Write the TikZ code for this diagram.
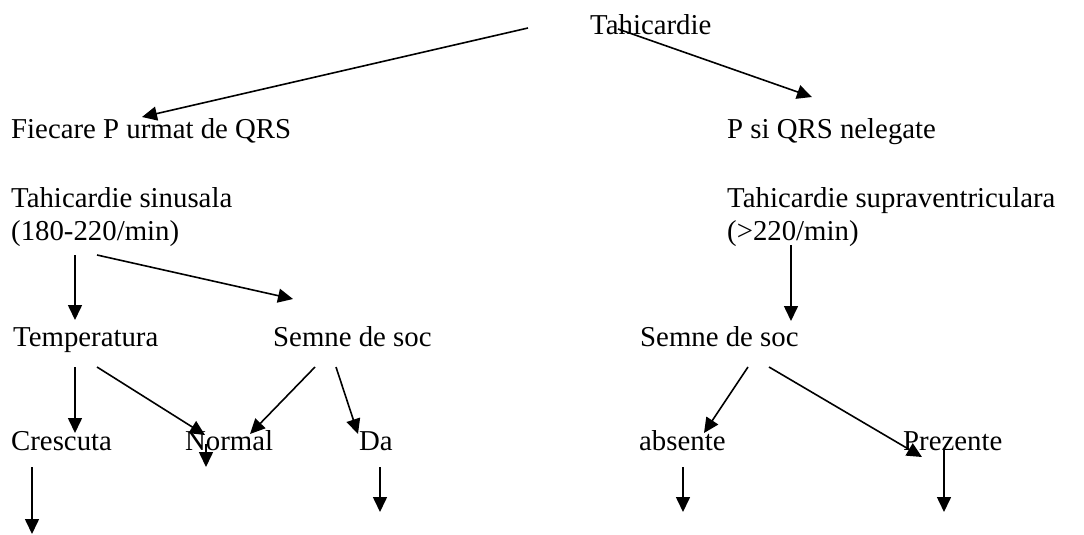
\documentclass[tikz,border=0pt]{standalone}
\usepackage{fontspec}
\setmainfont{Liberation Serif}
\usetikzlibrary{arrows.meta}
\begin{document}
\begin{tikzpicture}[x=1pt,y=-1pt,
  lbl/.style={anchor=base west,inner sep=0pt,font=\fontsize{28.8}{34}\selectfont},
  arr/.style={line width=1.6pt,-{Triangle[length=15pt,width=14pt]}}]
\useasboundingbox (0,0) rectangle (1084,535);
% labels
\node[lbl] (tah) at (590,35) {Tahicardie};
\node[lbl] (fie) at (11,138) {Fiecare P urmat de QRS};
\node[lbl] (psi) at (727,138) {P si QRS nelegate};
\node[lbl] (sin1) at (11,207) {Tahicardie sinusala};
\node[lbl] (sin2) at (11,240) {(180-220/min)};
\node[lbl] (sup1) at (727,207) {Tahicardie supraventriculara};
\node[lbl] (sup2) at (727,240) {(>220/min)};
\node[lbl] (temp) at (13,346) {Temperatura};
\node[lbl] (socl) at (273,346) {Semne de soc};
\node[lbl] (socr) at (640,346) {Semne de soc};
\node[lbl] (cre) at (11,450) {Crescuta};
\node[lbl] (nor) at (185,450) {Normal};
\node[lbl] (da) at (359,450) {Da};
\node[lbl] (abs) at (639,450) {absente};
\node[lbl] (pre) at (903,450) {Prezente};
% connector end points
\coordinate (a1s) at (528,28);  \coordinate (a1e) at (142,117);
\coordinate (a2s) at (618,29);  \coordinate (a2e) at (812,97);
\coordinate (a3s) at (75,255);  \coordinate (a3e) at (75,320);
\coordinate (a4s) at (97,255);  \coordinate (a4e) at (293,299);
\coordinate (a5s) at (75,367);  \coordinate (a5e) at (75,433);
\coordinate (a6s) at (97,367);  \coordinate (a6e) at (205,435);
\coordinate (a7s) at (315,367); \coordinate (a7e) at (250,434);
\coordinate (a8s) at (336,367); \coordinate (a8e) at (358,434);
\coordinate (a9s) at (206,444); \coordinate (a9e) at (206,467);
\coordinate (a10s) at (32,467); \coordinate (a10e) at (32,534);
\coordinate (a11s) at (380,467); \coordinate (a11e) at (380,512);
\coordinate (a12s) at (791,245); \coordinate (a12e) at (791,321);
\coordinate (a13s) at (748,367); \coordinate (a13e) at (704,433);
\coordinate (a14s) at (769,367); \coordinate (a14e) at (922,457);
\coordinate (a15s) at (683,467); \coordinate (a15e) at (683,512);
\coordinate (a16s) at (944,448); \coordinate (a16e) at (944,512);
% connectors
\foreach \i in {1,...,16} \draw[arr] (a\i s) -- (a\i e);
\end{tikzpicture}
\end{document}
